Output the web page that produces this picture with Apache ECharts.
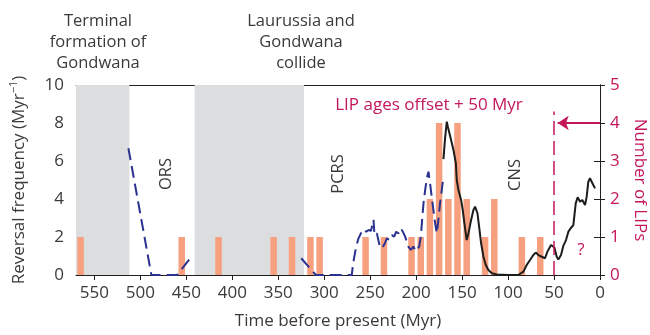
<!DOCTYPE html>
<html lang="en">
<head>
<meta charset="UTF-8">
<title>Reversal frequency and LIPs</title>
<script src="https://cdn.jsdelivr.net/npm/echarts@6/dist/echarts.min.js"></script>
<style>
  html, body { margin: 0; padding: 0; background: #fff; }
  #chart { width: 650px; height: 335px; }
</style>
</head>
<body>
<div id="chart"></div>
<script>
// LIP ages (already shifted +50 Myr) and how many LIPs fall in each 10 Myr bin
var lipAges   = [565, 455, 415, 355, 335, 315, 305, 255, 235, 205, 195, 185, 175, 165, 155, 145, 125, 115, 85, 65];
var lipCounts = [1, 1, 1, 1, 1, 1, 1, 1, 1, 1, 1, 2, 4, 2, 4, 2, 1, 2, 1, 1];

// reversal frequency, older estimates (dashed), [age Myr, reversals per Myr]
var oldRevA = [[513, 6.67], [488, 0], [460, 0], [443, 1.05]];
var oldRevB = [[325, 0.88], [309, 0], [270, 0], [269, 0.44], [267.4, 0.93], [265.2, 1.49], [262.7, 1.93],
  [260.1, 2.19], [257.2, 2.4], [254.3, 2.28], [251.8, 2.37], [249.2, 2.32], [246.4, 2.9], [245.3, 2.1],
  [242.7, 2.19], [239.9, 1.58], [237.3, 1.4], [234.4, 1.63], [231.8, 1.93], [229, 1.84], [226.4, 2.1],
  [223.9, 2.02], [221.7, 2.28], [219.2, 2.19], [216.6, 2.46], [214.5, 2.28], [212, 2.02], [210.1, 1.75],
  [208.4, 1.49], [205.8, 1.32], [203, 1.5], [200.5, 1.25], [198.6, 1.32], [196.7, 1.49], [194.9, 2.02],
  [193.5, 2.9], [192, 3.77], [190.2, 4.47], [188.4, 5.09], [186.6, 5.44], [184.8, 4.82], [182.9, 4.04],
  [181.2, 3.42], [179.3, 2.72], [177.5, 2.19], [175.8, 2.9], [174, 3.77], [172.1, 4.47], [170.3, 5.2]];

// reversal frequency, recent record (solid)
var newRev = [[170.3, 6.1], [168.5, 7.2], [166.7, 8.07], [165.5, 7.8], [164.1, 7.72], [162, 7.1], [159.4, 6.58],
  [156.8, 5.88], [155.8, 5.0], [154, 4.47], [151.1, 3.95], [149.3, 3.42], [147.5, 2.72], [145, 1.84],
  [143.1, 2.19], [140.2, 2.9], [137.7, 3.42], [135.9, 3.6], [133.3, 3.25], [131.5, 2.54], [129.3, 1.67],
  [126.8, 0.96], [124.2, 0.53], [121.4, 0.26], [117.7, 0.09], [112.3, 0.03], [100, 0], [88.8, 0],
  [83.3, 0.18], [79.7, 0.53], [76.1, 0.79], [72.5, 1.05], [69.9, 1.18], [67, 1.05], [63.4, 0.96],
  [59.8, 0.88], [57.2, 1.23], [53.3, 1.58], [49.6, 1.45], [47.1, 0.96], [45.3, 0.82], [42.4, 1.05],
  [39.9, 1.53], [37, 1.84], [34.4, 2.28], [31.9, 2.46], [29, 2.63], [26.4, 3.77], [24.3, 4.09],
  [21.7, 3.86], [19.2, 3.95], [16.3, 3.68], [14.5, 4.12], [12.7, 4.91], [10.9, 5.09], [9, 5.17],
  [7.3, 4.74], [5.4, 4.56]];

// continental collision intervals (Myr)
var collisions = [[570, 512], [441, 322]];

var font = 'Open Sans';
var ink = '#3a3a3a';
var crimson = '#c4175b';

var chart = echarts.init(document.getElementById('chart'));

// plain rects so the value axis extent is not padded for bar width
function renderLip(params, api) {
  var top = api.coord([api.value(0), api.value(1)]);
  var base = api.coord([api.value(0), 0]);
  var w = 6.5;
  return {
    type: 'rect',
    shape: { x: top[0] - w / 2, y: top[1], width: w, height: base[1] - top[1] },
    style: api.style()
  };
}

var option = {
  animation: false,
  // keep the plot box fixed, axis names may sit near the edge
  grid: { left: 76, right: 50, top: 85, bottom: 60, containLabel: false, outerBoundsMode: 'none' },
  xAxis: [{
    type: 'value', min: 0, max: 570, interval: 50, inverse: true,
    axisLine: { lineStyle: { color: '#231f20', width: 1 } },
    axisTick: { length: 5, lineStyle: { color: '#231f20' } },
    axisLabel: { color: ink, fontSize: 17, fontFamily: font, margin: 10, showMaxLabel: false },
    splitLine: { show: false },
    name: 'Time before present (Myr)', nameLocation: 'middle', nameGap: 38,
    nameTextStyle: { color: ink, fontSize: 17, fontFamily: font }
  }, {
    type: 'value', min: 0, max: 570, inverse: true, position: 'top',
    axisLine: { onZero: false, lineStyle: { color: '#231f20', width: 1 } },
    axisTick: { show: false }, axisLabel: { show: false }, splitLine: { show: false }
  }],
  yAxis: [{
    type: 'value', min: 0, max: 10, interval: 2, position: 'left',
    axisLine: { show: true, lineStyle: { color: '#231f20' } },
    axisTick: { show: true, length: 6, lineStyle: { color: '#231f20' } },
    axisLabel: { color: ink, fontSize: 17, fontFamily: font, margin: 12 },
    splitLine: { show: false },
    name: 'Reversal frequency (Myr{sup|−1})', nameLocation: 'middle', nameGap: 46, nameRotate: 90,
    nameTextStyle: {
      color: ink, fontSize: 17, fontFamily: font, lineHeight: 22,
      rich: { sup: { fontSize: 11, fontFamily: font, color: ink, verticalAlign: 'top', lineHeight: 22 } }
    }
  }, {
    type: 'value', min: 0, max: 5, interval: 1, position: 'right',
    axisLine: { show: true, lineStyle: { color: '#231f20' } },
    axisTick: { show: true, length: 5, lineStyle: { color: '#231f20' } },
    axisLabel: { color: crimson, fontSize: 17, fontFamily: font, margin: 10 },
    splitLine: { show: false },
    name: 'Number of LIPs', nameLocation: 'middle', nameGap: 31, nameRotate: -90,
    nameTextStyle: { color: crimson, fontSize: 17, fontFamily: font }
  }],
  series: [{
    // grey collision bands
    type: 'line', data: [], z: -1, silent: true,
    markArea: {
      silent: true,
      itemStyle: { color: '#dcdddf' },
      data: collisions.map(function (c) { return [{ xAxis: c[0] }, { xAxis: c[1] }]; })
    }
  }, {
    type: 'custom', yAxisIndex: 1, z: 2,
    renderItem: renderLip,
    encode: { x: 0, y: 1 },
    itemStyle: { color: '#f7a07f' },
    data: lipAges.map(function (a, i) { return [a, lipCounts[i]]; }),
    markLine: {
      silent: true, symbol: ['none', 'arrow'], symbolSize: [11, 11],
      label: { show: false },
      lineStyle: { color: crimson, width: 2, type: 'solid' },
      data: [[{ coord: [0, 4] }, { coord: [46, 4] }]]
    }
  }, {
    type: 'line', data: oldRevA, showSymbol: false, z: 3,
    lineStyle: { color: '#2b3190', width: 2, type: [12, 6] }
  }, {
    type: 'line', data: oldRevB, showSymbol: false, z: 3,
    lineStyle: { color: '#2b3190', width: 2, type: [12, 6] }
  }, {
    type: 'line', data: newRev, showSymbol: false, z: 4,
    lineStyle: { color: '#1d1d1b', width: 2 },
    markLine: {
      silent: true, symbol: ['none', 'none'],
      label: { show: false },
      lineStyle: { color: crimson, width: 1.5, type: [14, 6] },
      data: [[{ coord: [50, 0] }, { coord: [50, 8.6] }]]
    }
  }],
  graphic: [
    { type: 'text', x: 98, y: 11, style: { text: 'Terminal\nformation of\nGondwana', fill: ink,
      font: '16.5px "Open Sans"', textAlign: 'center', textVerticalAlign: 'top', lineHeight: 21 } },
    { type: 'text', x: 301, y: 11, style: { text: 'Laurussia and\nGondwana\ncollide', fill: ink,
      font: '16.5px "Open Sans"', textAlign: 'center', textVerticalAlign: 'top', lineHeight: 21 } },
    { type: 'text', x: 166, y: 174, rotation: Math.PI / 2, style: { text: 'ORS', fill: ink,
      font: '16.5px "Open Sans"', textAlign: 'center', textVerticalAlign: 'middle' } },
    { type: 'text', x: 338, y: 174, rotation: Math.PI / 2, style: { text: 'PCRS', fill: ink,
      font: '16.5px "Open Sans"', textAlign: 'center', textVerticalAlign: 'middle' } },
    { type: 'text', x: 515, y: 175, rotation: Math.PI / 2, style: { text: 'CNS', fill: ink,
      font: '16.5px "Open Sans"', textAlign: 'center', textVerticalAlign: 'middle' } },
    { type: 'text', x: 429, y: 105, style: { text: 'LIP ages offset + 50 Myr', fill: crimson,
      font: '17px "Open Sans"', textAlign: 'center', textVerticalAlign: 'middle' } },
    { type: 'text', x: 581, y: 250, style: { text: '?', fill: crimson,
      font: '17px "Open Sans"', textAlign: 'center', textVerticalAlign: 'middle' } }
  ]
};

chart.setOption(option);
</script>
</body>
</html>
